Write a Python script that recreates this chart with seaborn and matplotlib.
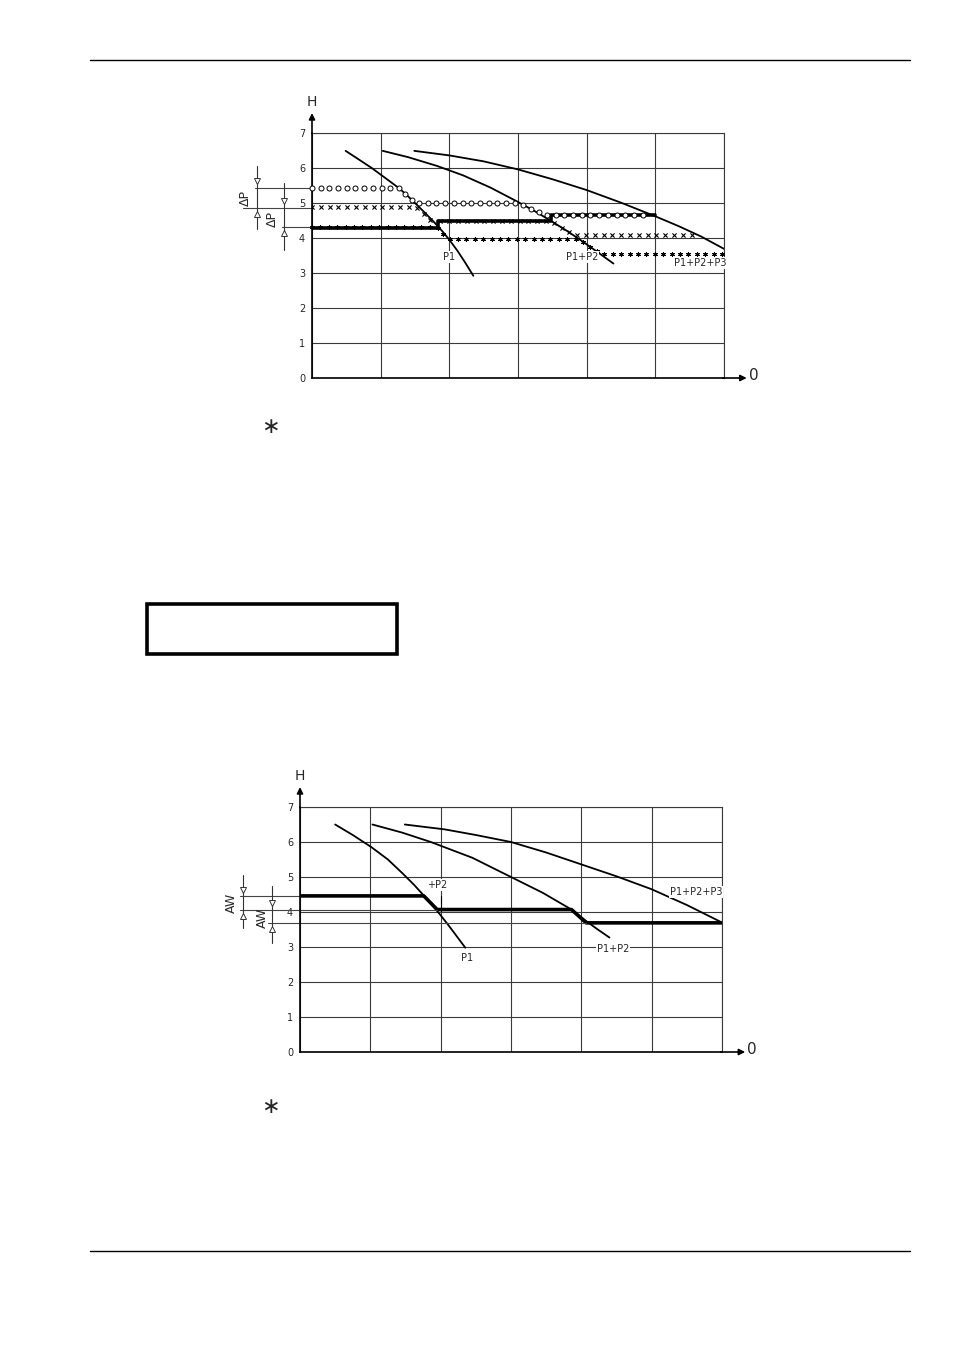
import numpy as np
import matplotlib
matplotlib.use("Agg")
import matplotlib.pyplot as plt
from matplotlib.patches import Rectangle
import seaborn as sns

sns.set_style("white")
plt.rcParams['font.family'] = ['DejaVu Sans']

# ---------- data ----------
# grid units: Q (0..6 columns), H (0..7)
h_ticks = [0, 1, 2, 3, 4, 5, 6, 7]
q_grid = [0, 1, 2, 3, 4, 5, 6]

# upper chart: pump curves
top_p1_q = [0.49, 0.70, 0.87, 1.05, 1.27, 1.40, 1.52, 1.65, 1.78, 1.90, 2.00, 2.12, 2.23, 2.35]
top_p1_h = [6.49, 6.22, 6.00, 5.74, 5.42, 5.19, 4.96, 4.71, 4.45, 4.19, 3.95, 3.63, 3.30, 2.92]
top_p12_q = [1.03, 1.40, 1.82, 2.20, 2.60, 3.00, 3.25, 3.47, 3.70, 3.92, 4.15, 4.39]
top_p12_h = [6.49, 6.31, 6.06, 5.79, 5.44, 5.03, 4.76, 4.50, 4.22, 3.93, 3.61, 3.27]
top_p123_q = [1.49, 2.00, 2.50, 3.00, 3.50, 4.00, 4.50, 5.00, 5.35, 5.67, 6.00]
top_p123_h = [6.49, 6.36, 6.19, 5.96, 5.68, 5.37, 5.01, 4.62, 4.33, 4.04, 3.69]

# upper chart: set point steps (thick) and the three marker rows
top_set_q = [0, 1.83, 1.83, 3.48, 3.48, 5.00]
top_set_h = [4.30, 4.30, 4.48, 4.48, 4.65, 4.65]
circ_q = [0, 1.26, 1.50, 3.00, 3.38, 4.92]
circ_h = [5.44, 5.44, 5.00, 5.00, 4.66, 4.66]
cross1_q = [0, 1.51, 1.80]
cross1_h = [4.88, 4.88, 4.36]
cross2_q = [1.87, 3.47, 3.80, 5.55]
cross2_h = [4.50, 4.50, 4.10, 4.10]
star_q = [0, 1.82, 1.99, 3.90, 4.21, 6.00]
star_h = [4.31, 4.31, 3.96, 3.96, 3.53, 3.53]

# lower chart: pump curves
bot_p1_q = [0.50, 0.75, 1.01, 1.25, 1.46, 1.62, 1.76, 1.88, 1.97, 2.10, 2.22, 2.35]
bot_p1_h = [6.50, 6.20, 5.86, 5.50, 5.10, 4.78, 4.47, 4.20, 3.98, 3.65, 3.33, 2.98]
bot_p12_q = [1.03, 1.45, 1.86, 2.45, 3.00, 3.45, 3.86, 4.07, 4.22, 4.40]
bot_p12_h = [6.50, 6.27, 6.00, 5.55, 5.00, 4.55, 4.07, 3.74, 3.52, 3.27]
bot_p123_q = [1.49, 2.06, 2.50, 3.00, 3.50, 4.00, 4.50, 5.00, 5.50, 6.00]
bot_p123_h = [6.50, 6.36, 6.20, 6.00, 5.70, 5.36, 5.02, 4.65, 4.20, 3.70]
bot_set_q = [0, 1.76, 1.95, 3.86, 4.07, 6.00]
bot_set_h = [4.46, 4.46, 4.07, 4.07, 3.69, 3.69]

top_labels = [("P1", 2.00, 3.45), ("P1+P2", 3.93, 3.45), ("P1+P2+P3", 5.65, 3.28)]
bot_labels = [("P1", 2.38, 2.70), ("P1+P2", 4.45, 2.95), ("P1+P2+P3", 5.63, 4.58),
              ("+P2", 1.95, 4.77)]


def along(q, h, step_px, sx, sy):
    # place markers evenly along a drawn run (in pixel space)
    px = np.array(q) * sx
    py = np.array(h) * sy
    s = np.concatenate([[0], np.cumsum(np.hypot(np.diff(px), np.diff(py)))])
    t = np.arange(0, s[-1] + 0.5, step_px)
    return np.interp(t, s, q), np.interp(t, s, h)


def base_chart(ax):
    ax.set_xlim(0, 6)
    ax.set_ylim(0, 7)
    ax.set_xticks(q_grid)
    ax.set_xticklabels([])
    ax.set_yticks(h_ticks)
    ax.set_yticklabels([str(v) for v in h_ticks])
    ax.tick_params(length=0, pad=5, labelsize=7)
    ax.grid(True, color='#3a3a3a', lw=0.8)
    for side in ['top', 'right']:
        ax.spines[side].set_color('#3a3a3a')
        ax.spines[side].set_linewidth(0.8)
    for side in ['left', 'bottom']:
        ax.spines[side].set_color('black')
        ax.spines[side].set_linewidth(1.2)
    ax.set_xlabel('')
    ax.set_ylabel('')
    ax.annotate('', xy=(0, 7.57), xytext=(0, 6.98), annotation_clip=False,
                arrowprops=dict(arrowstyle='-|>', color='k', lw=1.2, mutation_scale=9,
                                shrinkA=0, shrinkB=0))
    ax.annotate('', xy=(6.33, 0), xytext=(5.98, 0), annotation_clip=False,
                arrowprops=dict(arrowstyle='-|>', color='k', lw=1.2, mutation_scale=9,
                                shrinkA=0, shrinkB=0))
    ax.text(0.0, 7.88, 'H', ha='center', va='center', fontsize=10)
    ax.text(6.43, 0.08, '0', ha='center', va='center', fontsize=11)


def curve(ax, q, h, lw=1.3):
    sns.lineplot(x=q, y=h, sort=False, estimator=None, color='k', lw=lw, ax=ax)


def dimension(ax, x, y0, y1, ya, yb, text, tx, ty):
    # dimension line with open arrows pointing at ya (from above) and yb (from below)
    ax.plot([x, x], [y0, y1], color='#333333', lw=0.8, clip_on=False)
    ax.plot([x], [ya + 0.18], marker='v', ms=4, mfc='white', mec='#333333', mew=0.7, clip_on=False)
    ax.plot([x], [yb - 0.18], marker='^', ms=4, mfc='white', mec='#333333', mew=0.7, clip_on=False)
    ax.text(tx, ty, text, rotation=90, ha='center', va='center', fontsize=9, clip_on=False)


fig = plt.figure(figsize=(9.54, 13.48), dpi=100)

# page furniture (pixel coordinates)
page = fig.add_axes([0, 0, 1, 1], zorder=-1)
page.set_xlim(0, 954)
page.set_ylim(1348, 0)
page.axis('off')
page.plot([90, 910], [60, 60], color='k', lw=1.0)
page.plot([90, 910], [1251, 1251], color='k', lw=1.0)
page.text(270, 427, '\u2217', ha='center', va='center', fontsize=16)
page.text(270, 1107, '\u2217', ha='center', va='center', fontsize=16)
page.add_patch(Rectangle((147, 604), 250, 50, fill=False, ec='k', lw=2.6))

# ---------- upper chart ----------
ax1 = fig.add_axes([0.32704, 0.71958, 0.43187, 0.18175])
base_chart(ax1)
curve(ax1, top_p1_q, top_p1_h)
curve(ax1, top_p12_q, top_p12_h)
curve(ax1, top_p123_q, top_p123_h)
curve(ax1, top_set_q, top_set_h, lw=2.6)

sx, sy = 68.67, 35.0
cq, ch = along(circ_q, circ_h, 8.7, sx, sy)
sns.scatterplot(x=cq, y=ch, marker='o', s=13, facecolor='white', edgecolor='k',
                linewidth=0.7, ax=ax1, zorder=4, clip_on=False)
for rq, rh in [(cross1_q, cross1_h), (cross2_q, cross2_h)]:
    xq, xh = along(rq, rh, 8.8, sx, sy)
    sns.scatterplot(x=xq, y=xh, marker='x', s=9, color='k', linewidth=0.8, ax=ax1, zorder=4)
stq, sth = along(star_q, star_h, 8.4, sx, sy)
sns.scatterplot(x=stq, y=sth, marker=(6, 2, 0), s=8, color='k', linewidth=0.8,
                ax=ax1, zorder=4, clip_on=False)

for txt, tq, th in top_labels:
    ax1.text(tq, th, txt, ha='center', va='center', fontsize=7,
             bbox=dict(fc='white', ec='none', pad=0.6), zorder=5)

# delta P dimensions
ax1.plot([-0.83, 0], [5.44, 5.44], color='#444444', lw=0.8, clip_on=False)
ax1.plot([-1.00, 0], [4.87, 4.87], color='#444444', lw=0.8, clip_on=False)
ax1.plot([-0.44, 0], [4.31, 4.31], color='#444444', lw=0.8, clip_on=False)
dimension(ax1, -0.805, 6.06, 4.26, 5.44, 4.87, '\u0394P', -0.976, 5.13)
dimension(ax1, -0.41, 5.58, 3.66, 4.87, 4.31, '\u0394P', -0.58, 4.53)

# ---------- lower chart ----------
ax2 = fig.add_axes([0.31447, 0.21958, 0.44235, 0.18175])
base_chart(ax2)
curve(ax2, bot_p1_q, bot_p1_h)
curve(ax2, bot_p12_q, bot_p12_h)
curve(ax2, bot_p123_q, bot_p123_h)
curve(ax2, bot_set_q, bot_set_h, lw=2.6)
ax2.plot([2.0, 2.0], [4.03, 4.46], color='k', lw=0.8)

for txt, tq, th in bot_labels:
    ax2.text(tq, th, txt, ha='center', va='center', fontsize=7,
             bbox=dict(fc='white', ec='none', pad=0.6), zorder=5)

# AW dimensions
ax2.plot([-0.85, 0], [4.46, 4.46], color='#444444', lw=0.8, clip_on=False)
ax2.plot([-0.85, 1.95], [4.07, 4.07], color='#444444', lw=0.8, clip_on=False)
ax2.plot([-0.46, 4.07], [3.69, 3.69], color='#444444', lw=0.8, clip_on=False)
dimension(ax2, -0.806, 5.07, 3.55, 4.46, 4.07, 'AW', -0.97, 4.25)
dimension(ax2, -0.40, 4.73, 3.11, 4.07, 3.69, 'AW', -0.54, 3.82)

fig.savefig('out.png', dpi=100, facecolor='white')
